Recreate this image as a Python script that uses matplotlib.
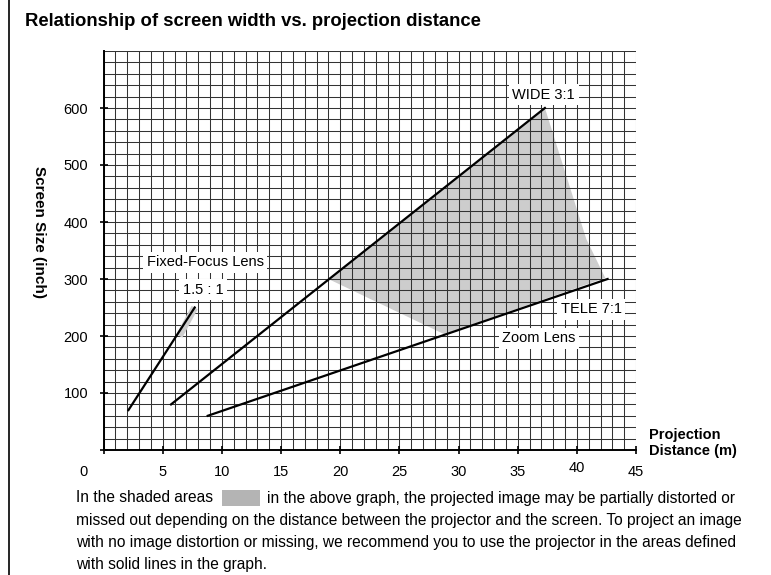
import matplotlib
matplotlib.use("Agg")
import matplotlib.pyplot as plt
import matplotlib.transforms as mtransforms
from matplotlib.patches import Rectangle, Polygon
from matplotlib.lines import Line2D

plt.rcParams['font.family'] = ['Liberation Sans', 'DejaVu Sans']

# data: projection distance (m) vs screen size (inch)
fixed_dist = [2.1, 7.7]
fixed_size = [70, 250]
fixed_shade_dist = [6.4, 7.7]
fixed_shade_size = [200, 250]

wide_dist = [5.7, 37.3]
wide_size = [80, 600]

tele_dist = [8.8, 42.6]
tele_size = [60, 300]

shade_dist = [19.0, 37.3, 40.8, 42.4, 28.8]
shade_size = [300, 600, 370, 302, 203]

x_ticks = [0, 5, 10, 15, 20, 25, 30, 35, 40, 45]
y_ticks = [0, 100, 200, 300, 400, 500, 600]
y_labels = ['', '100', '200', '300', '400', '500', '600']

notes = [("Fixed-Focus Lens", 8.6, 329),
         ("1.5 : 1", 8.4, 281),
         ("WIDE 3:1", 37.2, 623),
         ("TELE 7:1", 41.2, 247),
         ("Zoom Lens", 36.8, 196)]

caption_first = "In the shaded areas"
caption_first_rest = "in the above graph, the projected image may be partially distorted or"
caption_lines = [
    "missed out depending on the distance between the projector and the screen. To project an image",
    "with no image distortion or missing, we recommend you to use the projector in the areas defined",
    "with solid lines in the graph.",
]

shade_col = '#cdcdcd'

fig = plt.figure(figsize=(7.71, 5.75), dpi=100)
ax = fig.add_axes([103.6 / 771, 1 - 450 / 575, (636 - 103.6) / 771, (450 - 51) / 575])

ax.set_xlim(0, 45)
ax.set_ylim(0, 700)

# fine grid: 1 m x 20 inch
for gx in range(0, 46):
    ax.axvline(gx, color='#333333', lw=0.75, zorder=1)
for gy in range(0, 701, 20):
    ax.axhline(gy, color='#333333', lw=0.75, zorder=1)

ax.add_patch(Polygon(list(zip(shade_dist, shade_size)), closed=True,
                     facecolor=shade_col, edgecolor='none', zorder=0.5))
ax.plot(fixed_shade_dist, fixed_shade_size, color=shade_col, lw=5,
        solid_capstyle='butt', zorder=1.5)

for d, s in [(fixed_dist, fixed_size), (wide_dist, wide_size), (tele_dist, tele_size)]:
    ax.plot(d, s, color='black', lw=1.6, zorder=3)

for txt, x, y in notes:
    ax.text(x, y, txt, ha='center', va='center', fontsize=10.5, zorder=4,
            bbox=dict(facecolor='white', edgecolor='none', pad=2.5))

for side in ['top', 'right']:
    ax.spines[side].set_visible(False)
for side in ['left', 'bottom']:
    ax.spines[side].set_linewidth(1.4)
    ax.spines[side].set_zorder(5)

ax.set_xticks(x_ticks)
ax.set_yticks(y_ticks)
ax.set_yticklabels(y_labels)
ax.tick_params(direction='inout', length=6, width=1.2, labelsize=10.5, pad=8)

# the origin label sits left of the axis, the "40" a little higher
lbls = ax.get_xticklabels()
lbls[0].set_transform(lbls[0].get_transform() +
                      mtransforms.ScaledTranslation(-0.2, 0, fig.dpi_scale_trans))
lbls[8].set_transform(lbls[8].get_transform() +
                      mtransforms.ScaledTranslation(0, 0.04, fig.dpi_scale_trans))

fig.text(39 / 771, 1 - 232 / 575, "Screen Size (inch)", rotation=270, fontsize=11,
         fontweight='bold', ha='center', va='center')
fig.text(649 / 771, 1 - 443 / 575, "Projection\nDistance (m)", fontsize=10.5,
         fontweight='bold', ha='left', va='center', linespacing=1.15)

fig.text(25 / 771, 1 - 22 / 575, "Relationship of screen width vs. projection distance",
         fontsize=13.3, fontweight='bold', ha='left', va='center')

# left border
fig.add_artist(Line2D([9 / 771, 9 / 771], [1, 0], color='black', lw=1.2))

# caption under the chart
cap_size = 11.2
cap_x = 76 / 771
cap_y = [498, 520, 542, 564]
fig.text(cap_x, 1 - cap_y[0] / 575, caption_first, fontsize=cap_size, ha='left', va='center')
fig.add_artist(Rectangle((222 / 771, 1 - 506 / 575), 38 / 771, 16 / 575,
                         facecolor='#b4b4b4', edgecolor='none'))
fig.text(267 / 771, 1 - cap_y[0] / 575, caption_first_rest, fontsize=cap_size,
         ha='left', va='center')
for line, yy in zip(caption_lines, cap_y[1:]):
    fig.text(cap_x, 1 - yy / 575, line, fontsize=cap_size, ha='left', va='center')

fig.savefig("out.png", dpi=100)
